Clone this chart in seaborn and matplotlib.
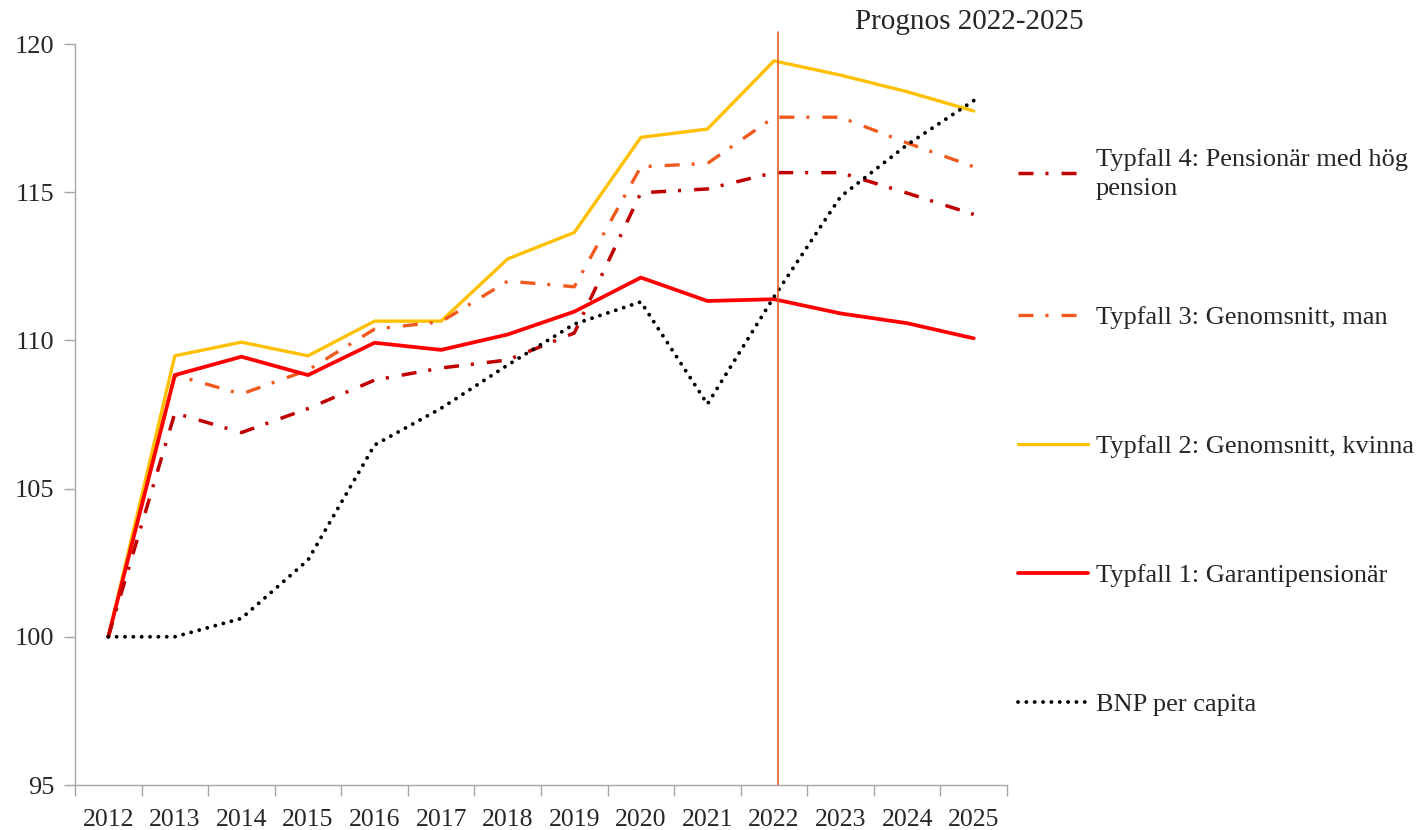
import numpy as np
import pandas as pd
import matplotlib
matplotlib.use("Agg")
import matplotlib.pyplot as plt
import seaborn as sns

# ── Data (index 2012 = 100) ─────────────────────────────────────────────────
years = list(range(2012, 2026))
typfall_1 = [100, 108.83, 109.45, 108.83, 109.92, 109.68, 110.20, 110.97,
             112.12, 111.33, 111.39, 110.91, 110.58, 110.07]
typfall_2 = [100, 109.48, 109.94, 109.48, 110.65, 110.65, 112.75, 113.64,
             116.85, 117.13, 119.43, 118.95, 118.39, 117.74]
typfall_3 = [100, 108.83, 108.19, 109.00, 110.38, 110.63, 112.00, 111.81,
             115.86, 115.97, 117.53, 117.53, 116.66, 115.86]
typfall_4 = [100, 107.55, 106.89, 107.70, 108.66, 109.07, 109.34, 110.25,
             114.98, 115.11, 115.66, 115.66, 114.97, 114.25]
bnp = [100, 100.00, 100.62, 102.59, 106.47, 107.71, 109.17, 110.55,
       111.30, 107.85, 111.47, 114.85, 116.60, 118.09]

prognos_start = 2022
labels = {
    "t4": "Typfall 4: Pensionär med hög\npension",
    "t3": "Typfall 3: Genomsnitt, man",
    "t2": "Typfall 2: Genomsnitt, kvinna",
    "t1": "Typfall 1: Garantipensionär",
    "bnp": "BNP per capita",
}

df = pd.DataFrame({"year": years, "t1": typfall_1, "t2": typfall_2,
                   "t3": typfall_3, "t4": typfall_4, "bnp": bnp})

sns.set_style("white")
plt.rcParams["font.family"] = ["Liberation Serif", "DejaVu Serif"]
plt.rcParams["lines.scale_dashes"] = False

fig = plt.figure(figsize=(14.24, 8.30), dpi=100)
ax = fig.add_axes([75 / 1424, 45 / 830, 932 / 1424, 741 / 830])

dashdot = (0, (10.8, 8.6, 2.2, 9.4))
# (kolumn, färg, linjestil, bredd) i ritordning
stil = [
    ("t2", "#FFC000", "-", 2.4),
    ("t3", "#F05A1E", dashdot, 2.4),
    ("t1", "#FF0000", "-", 2.7),
    ("t4", "#C00000", dashdot, 2.5),
    ("bnp", "#000000", (0, (0.01, 6.0)), 2.8),
]
linjer = {}
for kol, farg, ls, lw in stil:
    sns.lineplot(data=df, x="year", y=kol, color=farg, linestyle=ls,
                 linewidth=lw, ax=ax, legend=False)
    linjer[kol] = ax.get_lines()[-1]
linjer["bnp"].set_dash_capstyle("round")

# prognoslinje
ax.axvline(prognos_start + 0.06, ymin=0, ymax=1.016, color="#E2602C",
           linewidth=1.2, clip_on=False)

# axlar
ax.set_xlim(years[0] - 0.5, years[-1] + 0.5)
ax.set_ylim(95, 120)
ax.set_yticks(np.arange(95, 121, 5))
ax.set_xticks(years)
ax.set_xticks(np.arange(years[0] - 0.5, years[-1] + 1, 1), minor=True)
ax.tick_params(axis="x", which="major", length=0, pad=17, labelsize=18.5)
ax.tick_params(axis="x", which="minor", length=8, width=1, color="#A6A6A6",
               bottom=True)
ax.tick_params(axis="y", length=8, width=1, color="#A6A6A6", pad=7,
               labelsize=19, left=True)
ax.set_xlabel("")
ax.set_ylabel("")
for s in ["top", "right"]:
    ax.spines[s].set_visible(False)
for s in ["left", "bottom"]:
    ax.spines[s].set_color("#A6A6A6")
    ax.spines[s].set_linewidth(1)

fig.text(969 / 1424, 1 - 22 / 830, "Prognos 2022-2025", fontsize=21,
         ha="center", va="center")

ordning = ["t4", "t3", "t2", "t1", "bnp"]
leg = ax.legend([linjer[k] for k in ordning], [labels[k] for k in ordning],
                loc="upper left", bbox_to_anchor=(1018 / 1424, 1 - 148 / 830),
                bbox_transform=fig.transFigure, frameon=False, fontsize=19,
                handlelength=2.65, handletextpad=0.3, labelspacing=4.0,
                borderpad=0, borderaxespad=0)
leg.get_texts()[0].set_linespacing(1.4)

fig.savefig("out.png", dpi=100)
